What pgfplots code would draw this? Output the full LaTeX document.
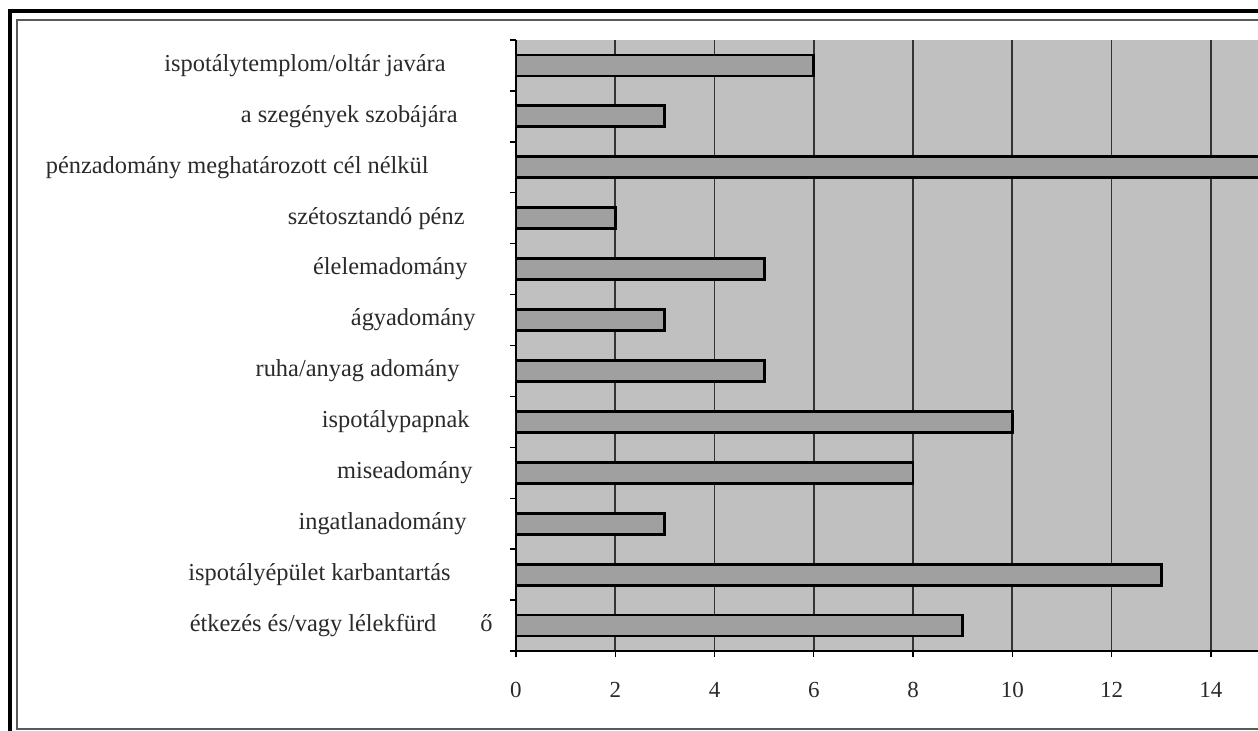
\documentclass[border=0pt]{standalone}
\usepackage{fontspec}
\setmainfont{Liberation Serif}
\usepackage{pgfplots}
\pgfplotsset{compat=1.18}
\definecolor{plotgray}{HTML}{C0C0C0}
\definecolor{bargray}{HTML}{A0A0A0}
\definecolor{gridgray}{HTML}{333333}
\definecolor{txt}{HTML}{2A2A2A}
\begin{document}
\begin{tikzpicture}
\useasboundingbox (-258pt,-40pt) rectangle (371pt,325.5pt);
\begin{axis}[
  at={(0,0)}, anchor=south west,
  scale only axis, width=371pt, height=305.5pt,
  xmin=0, xmax=14.95, ymin=0.5, ymax=12.5, y dir=reverse,
  axis x line*=bottom, axis y line*=left,
  axis line style={black, line width=1pt, -},
  axis background/.style={fill=plotgray},
  xtick={0,2,...,14}, xmajorgrids,
  grid style={color=gridgray, line width=0.9pt},
  tick align=outside, major tick length=3pt, minor tick length=3pt,
  tick style={black, line width=0.7pt},
  major y tick style={draw=none},
  ytick={1,...,12},
  minor ytick={0.5,1.5,...,12.5},
  yticklabels={
    ispotálytemplom/oltár javára\hspace*{32pt},
    a szegények szobájára\hspace*{26pt},
    pénzadomány meghatározott cél nélkül\hspace*{40.5pt},
    szétosztandó pénz\hspace*{22.5pt},
    élelemadomány\hspace*{21pt},
    ágyadomány\hspace*{17pt},
    ruha/anyag adomány\hspace*{25pt},
    ispotálypapnak\hspace*{20pt},
    miseadomány\hspace*{18.5pt},
    ingatlanadomány\hspace*{21.5pt},
    ispotályépület karbantartás\hspace*{29.5pt},
    étkezés és/vagy lélekfürd\hspace*{22pt}ő\hspace*{8.5pt}
  },
  yticklabel style={inner sep=0pt, font=\fontsize{12.2}{14}\selectfont, text=txt},
  xticklabel style={inner sep=0pt, yshift=-12.5pt, font=\fontsize{11.5}{13}\selectfont, text=txt},
  /pgf/number format/assume math mode=true,
  clip=true,
]
\addplot[xbar, bar width=10.5pt, bar shift=0pt, fill=bargray, draw=black, line width=1.4pt]
  coordinates {(6,1) (3,2) (15,3) (2,4) (5,5) (3,6) (5,7) (10,8) (8,9) (3,10) (13,11) (9,12)};
\end{axis}
% frame
\draw[black, line width=1.75pt] (-253pt,-40pt) -- (-253pt,320pt) -- (371pt,320pt);
\draw[gray!70!black, line width=1pt] (371pt,-39pt) -- (-249.25pt,-39pt) -- (-249.25pt,315.5pt) -- (371pt,315.5pt);
\end{tikzpicture}
\end{document}
